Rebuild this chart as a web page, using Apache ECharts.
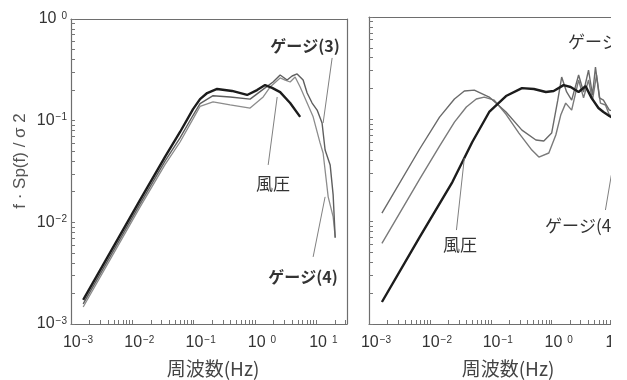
<!DOCTYPE html>
<html>
<head>
<meta charset="utf-8">
<script src="https://cdn.jsdelivr.net/npm/echarts@6/dist/echarts.min.js"></script>
<style>
  html, body { margin: 0; padding: 0; background: #fff; overflow: hidden; }
  #chart { width: 627px; height: 380px; }
</style>
</head>
<body>
<div id="chart"></div>
<script>
// Normalised power spectra f·Sp(f)/σ² against frequency (Hz), both axes in decades

// Left panel
const leftWindFreq = [0.00158, 0.0134, 0.0341, 0.060, 0.0977, 0.127, 0.166, 0.241, 0.423, 0.743, 1.08, 1.46, 1.90, 2.57, 3.74, 5.45];
const leftWindSpec = [0.00173, 0.0166, 0.0440, 0.0774, 0.130, 0.163, 0.187, 0.205, 0.196, 0.179, 0.200, 0.224, 0.210, 0.191, 0.149, 0.109];

const leftGauge3Freq = [0.00158, 0.0134, 0.0341, 0.060, 0.0977, 0.127, 0.207, 0.393, 0.832, 1.46, 1.97, 2.57, 3.34, 4.03, 4.86, 6.09, 7.08, 8.54, 10.3, 12.4, 13.9, 16.8, 18.8, 20.3];
const leftGauge3Spec = [0.00158, 0.0152, 0.040, 0.0676, 0.113, 0.147, 0.176, 0.171, 0.163, 0.210, 0.240, 0.281, 0.251, 0.275, 0.288, 0.251, 0.187, 0.149, 0.127, 0.0949, 0.0515, 0.0367, 0.0186, 0.00703];

const leftGauge4Freq = [0.00158, 0.0134, 0.0341, 0.060, 0.0977, 0.127, 0.207, 0.393, 0.832, 1.36, 1.76, 2.57, 3.10, 3.74, 4.51, 5.45, 7.08, 8.87, 11.5, 12.9, 15.6, 18.8, 20.3];
const leftGauge4Spec = [0.00147, 0.0142, 0.037, 0.0617, 0.104, 0.138, 0.153, 0.143, 0.133, 0.171, 0.214, 0.263, 0.251, 0.240, 0.269, 0.214, 0.149, 0.109, 0.0604, 0.0481, 0.0178, 0.0113, 0.00718];

// Right panel
const rightWindFreq = [0.00163, 0.00679, 0.0234, 0.0497, 0.0942, 0.178, 0.325, 0.510, 0.802, 1.08, 1.57, 2.05, 2.77, 3.60, 4.51, 5.86, 7.08, 8.87, 11.0];
const rightWindSpec = [0.00164, 0.00707, 0.0244, 0.0600, 0.118, 0.169, 0.202, 0.198, 0.185, 0.189, 0.216, 0.207, 0.185, 0.211, 0.162, 0.129, 0.118, 0.108, 0.100];

const rightGauge3Freq = [0.00163, 0.00679, 0.0144, 0.0253, 0.0368, 0.0536, 0.0942, 0.178, 0.325, 0.551, 0.743, 1.00, 1.26, 1.46, 1.76, 2.13, 2.77, 3.34, 4.03, 4.68, 5.24, 6.09, 7.08, 8.87, 11.0];
const rightGauge3Spec = [0.0121, 0.0513, 0.105, 0.158, 0.189, 0.193, 0.165, 0.118, 0.0785, 0.0628, 0.0614, 0.0734, 0.154, 0.259, 0.185, 0.154, 0.271, 0.185, 0.303, 0.173, 0.324, 0.162, 0.154, 0.123, 0.120];

const rightGauge4Freq = [0.00163, 0.00679, 0.0144, 0.0253, 0.0397, 0.0578, 0.0780, 0.114, 0.178, 0.290, 0.473, 0.617, 0.898, 1.17, 1.41, 1.70, 2.13, 2.77, 3.34, 4.03, 4.68, 5.45, 6.32, 7.64, 8.87, 11.0];
const rightGauge4Spec = [0.00614, 0.0261, 0.0548, 0.0940, 0.132, 0.158, 0.165, 0.154, 0.112, 0.0734, 0.0501, 0.0428, 0.0469, 0.0703, 0.110, 0.144, 0.123, 0.242, 0.162, 0.242, 0.154, 0.271, 0.144, 0.138, 0.110, 0.110];

// Axis decades (Hz and spectrum)
const xDecades = [0.001, 0.01, 0.1, 1, 10];
const yDecades = [0.001, 0.01, 0.1, 1];

const lg = Math.log10;
const X_MIN = -3, X_MAX = 1.5, Y_MIN = -3, Y_MAX = 0;

// tick positions at 1..9 × each decade, expressed as exponents
function logTicks(decades, upper) {
  const out = [];
  decades.forEach(d => {
    for (let k = 1; k <= 9; k++) {
      const v = d * k;
      if (v <= upper * 1.0001) out.push(lg(v));
    }
  });
  return out;
}
const xTicks = logTicks(xDecades, Math.pow(10, X_MAX));
const yTicks = logTicks(yDecades, 1);

function pairs(fs, vs) { return fs.map((f, i) => [lg(f), lg(vs[i])]); }

// labels only on whole decades: 10 with a raised exponent
function decadeLabel(e) {
  const r = Math.round(e);
  if (Math.abs(e - r) > 1e-6) return '';
  return r < 0 ? '{m|10}{n|\u2212' + (-r) + '}' : '{m|10}{p|' + r + '}';
}
const labelRich = {
  m: { fontSize: 16, lineHeight: 16, color: '#333', fontFamily: 'Liberation Sans' },
  n: { fontSize: 10, lineHeight: 13, verticalAlign: 'top', color: '#333', fontFamily: 'Liberation Sans', padding: [0, 0, 0, 1] },
  p: { fontSize: 10, lineHeight: 13, verticalAlign: 'top', color: '#333', fontFamily: 'Liberation Sans', padding: [0, 0, 0, 5] }
};

const frameColor = '#6e6e6e';
const tickColor = '#777';

const grids = [
  { left: 71, top: 19, width: 276, height: 305 },
  { left: 369, top: 17, width: 274, height: 307 }
];

function xAxisFor(gi) {
  return {
    type: 'value', gridIndex: gi, min: X_MIN, max: X_MAX, interval: 1,
    axisLine: { show: true, onZero: false, lineStyle: { color: frameColor, width: 1.2 } },
    splitLine: { show: false },
    axisTick: { show: false },
    axisLabel: { formatter: decadeLabel, rich: labelRich, margin: 11, padding: [0, 0, 0, 14] }
  };
}
function yAxisFor(gi, withLabels) {
  return {
    type: 'value', gridIndex: gi, min: Y_MIN, max: Y_MAX, interval: 1,
    axisLine: { show: true, onZero: false, lineStyle: { color: frameColor, width: 1.2 } },
    splitLine: { show: false },
    axisTick: { show: false },
    axisLabel: { show: withLabels, formatter: decadeLabel, rich: labelRich, margin: 4 }
  };
}
// plain top / right edges closing each frame
function frameX(gi) {
  return {
    type: 'value', gridIndex: gi, min: X_MIN, max: X_MAX, position: 'top',
    axisLine: { show: true, onZero: false, lineStyle: { color: frameColor, width: 1.2 } },
    axisTick: { show: false }, axisLabel: { show: false }, splitLine: { show: false }
  };
}
function frameY(gi) {
  return {
    type: 'value', gridIndex: gi, min: Y_MIN, max: Y_MAX, position: 'right',
    axisLine: { show: true, onZero: false, lineStyle: { color: frameColor, width: 1.2 } },
    axisTick: { show: false }, axisLabel: { show: false }, splitLine: { show: false }
  };
}

// short inward tick marks along the bottom and left edges of a panel (4 px long)
function edgeTicks(gi) {
  const g = grids[gi];
  const dy = 4 * (Y_MAX - Y_MIN) / g.height;
  const dx = 4 * (X_MAX - X_MIN) / g.width;
  const style = { color: tickColor, width: 1, type: 'solid' };
  const items = [];
  xTicks.forEach(t => items.push([{ coord: [t, Y_MIN], lineStyle: style }, { coord: [t, Y_MIN + dy] }]));
  yTicks.forEach(t => items.push([{ coord: [X_MIN, t], lineStyle: style }, { coord: [X_MIN + dx, t] }]));
  return items;
}

const leaderStyle = { color: '#808080', width: 1, type: 'solid' };
function markLines(list, extra) {
  const items = list.map(p => [
    { coord: [lg(p[0][0]), lg(p[0][1])], lineStyle: leaderStyle },
    { coord: [lg(p[1][0]), lg(p[1][1])] }
  ]);
  return {
    symbol: 'none', silent: true, animation: false,
    label: { show: false }, emphasis: { disabled: true },
    data: items.concat(extra || [])
  };
}

function line(name, gi, fs, vs, color, width, extra) {
  return Object.assign({
    name: name, type: 'line', xAxisIndex: gi, yAxisIndex: gi,
    data: pairs(fs, vs), showSymbol: false, symbol: 'none',
    lineStyle: { color: color, width: width }, animation: false, z: width > 2 ? 4 : 3
  }, extra || {});
}

const jp = 'Noto Sans CJK JP';

const option = {
  backgroundColor: '#fff',
  grid: grids.map(g => Object.assign({ outerBoundsMode: 'none' }, g)),
  xAxis: [xAxisFor(0), xAxisFor(1), frameX(0), frameX(1)],
  yAxis: [yAxisFor(0, true), yAxisFor(1, false), frameY(0), frameY(1)],
  series: [
    line('ゲージ(4)', 0, leftGauge4Freq, leftGauge4Spec, '#8c8c8c', 1.3, {
      markLine: markLines([], edgeTicks(0))
    }),
    line('ゲージ(3)', 0, leftGauge3Freq, leftGauge3Spec, '#5e5e5e', 1.4, {
      markLine: markLines([
        [[18.1, 0.414], [12.9, 0.0949]],
        [[8.87, 0.00457], [13.9, 0.0178]]
      ])
    }),
    line('風圧', 0, leftWindFreq, leftWindSpec, '#1c1c1c', 2.4, {
      markLine: markLines([[[1.64, 0.0367], [2.30, 0.171]]])
    }),
    line('ゲージ(4)', 1, rightGauge4Freq, rightGauge4Spec, '#7a7a7a', 1.4, {
      markLine: markLines([], edgeTicks(1))
    }),
    line('ゲージ(3)', 1, rightGauge3Freq, rightGauge3Spec, '#6a6a6a', 1.4, {
      markLine: markLines([[[7.64, 0.0130], [9.55, 0.0285]]])
    }),
    line('風圧', 1, rightWindFreq, rightWindSpec, '#1c1c1c', 2.4, {
      markLine: markLines([[[0.0273, 0.00828], [0.0368, 0.0418]]])
    })
  ],
  graphic: [
    { type: 'text', x: 20, y: 161, rotation: Math.PI / 2,
      style: { text: 'f · Sp(f) / σ 2', font: '17px "Liberation Sans"', fill: '#555', align: 'center', verticalAlign: 'middle' } },
    { type: 'text', x: 213, y: 369,
      style: { text: '周波数(Hz)', font: '19px "' + jp + '"', fill: '#444', align: 'center', verticalAlign: 'middle' } },
    { type: 'text', x: 508, y: 369,
      style: { text: '周波数(Hz)', font: '19px "' + jp + '"', fill: '#444', align: 'center', verticalAlign: 'middle' } },
    { type: 'text', x: 305, y: 46,
      style: { text: 'ゲージ(3)', font: 'bold 16px "' + jp + '"', fill: '#333', align: 'center', verticalAlign: 'middle' } },
    { type: 'text', x: 273, y: 184,
      style: { text: '風圧', font: '17px "' + jp + '"', fill: '#333', align: 'center', verticalAlign: 'middle' } },
    { type: 'text', x: 303, y: 277,
      style: { text: 'ゲージ(4)', font: 'bold 16px "' + jp + '"', fill: '#333', align: 'center', verticalAlign: 'middle' } },
    { type: 'text', x: 568, y: 42,
      style: { text: 'ゲージ(3)', font: '17px "' + jp + '"', fill: '#333', align: 'left', verticalAlign: 'middle' } },
    { type: 'text', x: 460, y: 245,
      style: { text: '風圧', font: '17px "' + jp + '"', fill: '#333', align: 'center', verticalAlign: 'middle' } },
    { type: 'text', x: 545, y: 226,
      style: { text: 'ゲージ(4)', font: '17px "' + jp + '"', fill: '#333', align: 'left', verticalAlign: 'middle' } },
    // page edge: the right panel runs off beyond this strip
    { type: 'rect', z: 100, shape: { x: 611, y: 0, width: 16, height: 380 }, style: { fill: '#fff' }, silent: true }
  ]
};

const chart = echarts.init(document.getElementById('chart'), null, { renderer: 'canvas' });
chart.setOption(option);
</script>
</body>
</html>
